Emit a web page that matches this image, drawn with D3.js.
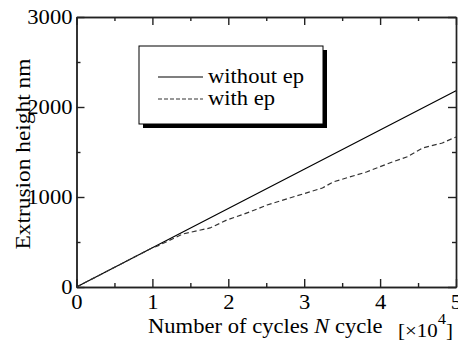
<!DOCTYPE html>
<html lang="en">
<head>
    <meta charset="UTF-8">
    <title>Extrusion height vs number of cycles</title>
    <script src="https://d3js.org/d3.v7.min.js"></script>
    <style>
        body { margin: 0; background: white; }
    </style>
</head>
<body>
    <div id="plot"></div>
    <script>
        const width = 458;
        const height = 343;
        const margin = { top: 17, right: 2, bottom: 56, left: 77 };
        const serif = '"Liberation Serif", "Times New Roman", serif';

        // data (x in units of 10^4 cycles, y in nm)
        const withoutEpX = [0, 1, 2, 3, 4, 5];
        const withoutEpY = [0, 436, 872, 1308, 1744, 2180];
        const withEpX = [0, 1.0, 1.07, 1.40, 1.76, 1.98, 2.28, 2.51, 2.81, 3.24, 3.38, 3.82, 4.16, 4.35, 4.56, 4.82, 5.0];
        const withEpY = [0, 436, 456, 589, 656, 744, 833, 911, 989, 1100, 1167, 1278, 1389, 1444, 1544, 1600, 1667];
        const xTicks = [0, 1, 2, 3, 4, 5];
        const xMinorTicks = [0.5, 1.5, 2.5, 3.5, 4.5];
        const yTicks = [0, 1000, 2000, 3000];
        const yMinorTicks = [500, 1500, 2500];
        const legendLabels = ["without ep", "with ep"];

        const sx = 1.13; // the source font is wider than Times

        const svg = d3.select("#plot")
            .append("svg")
            .attr("width", width)
            .attr("height", height);

        const x = d3.scaleLinear().domain([0, 5]).range([margin.left - 0.5, width - margin.right]);
        const y = d3.scaleLinear().domain([0, 3000]).range([height - margin.bottom, margin.top]);

        // text placed at (px, py), widened horizontally
        function label(px, py, size, k = sx) {
            return svg.append("text")
                .attr("transform", `translate(${px},${py}) scale(${k},1)`)
                .style("font-family", serif)
                .style("font-size", size + "px")
                .attr("fill", "black");
        }

        // minor ticks (inward)
        svg.append("g").attr("transform", `translate(0,${y(0)})`)
            .call(d3.axisBottom(x).tickValues(xMinorTicks).tickSizeInner(-4).tickSizeOuter(0).tickFormat(""));
        svg.append("g").attr("transform", `translate(0,${y(3000)})`)
            .call(d3.axisTop(x).tickValues(xMinorTicks).tickSizeInner(-4).tickSizeOuter(0).tickFormat(""));
        svg.append("g").attr("transform", `translate(${x(0)},0)`)
            .call(d3.axisLeft(y).tickValues(yMinorTicks).tickSizeInner(-4).tickSizeOuter(0).tickFormat(""));
        svg.append("g").attr("transform", `translate(${x(5)},0)`)
            .call(d3.axisRight(y).tickValues(yMinorTicks).tickSizeInner(-4).tickSizeOuter(0).tickFormat(""));

        // major ticks
        const xAxis = svg.append("g").attr("transform", `translate(0,${y(0)})`)
            .call(d3.axisBottom(x).tickValues(xTicks).tickSizeInner(-8).tickSizeOuter(0).tickPadding(8).tickFormat(d3.format("d")));
        svg.append("g").attr("transform", `translate(0,${y(3000)})`)
            .call(d3.axisTop(x).tickValues(xTicks).tickSizeInner(-8).tickSizeOuter(0).tickFormat(""));
        const yAxis = svg.append("g").attr("transform", `translate(${x(0)},0)`)
            .call(d3.axisLeft(y).tickValues(yTicks).tickSizeInner(-8).tickSizeOuter(0).tickPadding(4).tickFormat(d3.format("d")));
        svg.append("g").attr("transform", `translate(${x(5)},0)`)
            .call(d3.axisRight(y).tickValues(yTicks).tickSizeInner(-8).tickSizeOuter(0).tickFormat(""));

        svg.selectAll(".domain, .tick line").attr("stroke", "#222").attr("stroke-width", 1.4);
        svg.selectAll(".tick text")
            .style("font-family", serif)
            .style("font-size", "20px")
            .attr("fill", "black");
        xAxis.selectAll(".tick text").attr("dy", "0.68em").attr("transform", `scale(${sx},1)`);
        yAxis.selectAll(".tick text")
            .attr("x", null)
            .attr("transform", `translate(-4,0) scale(${sx},1)`);

        // lines
        const line = d3.line().x(d => x(d[0])).y(d => y(d[1]));
        svg.append("path")
            .datum(d3.zip(withoutEpX, withoutEpY))
            .attr("d", line)
            .attr("fill", "none")
            .attr("stroke", "black")
            .attr("stroke-width", 1.2);
        svg.append("path")
            .datum(d3.zip(withEpX, withEpY))
            .attr("d", line)
            .attr("fill", "none")
            .attr("stroke", "#333")
            .attr("stroke-width", 1.2)
            .attr("stroke-dasharray", "5,3");

        // legend
        svg.append("rect")
            .attr("x", 143).attr("y", 50).attr("width", 184).attr("height", 78)
            .attr("fill", "black");
        svg.append("rect")
            .attr("x", 139).attr("y", 46).attr("width", 184).attr("height", 78)
            .attr("fill", "white").attr("stroke", "black").attr("stroke-width", 1);
        legendLabels.forEach((lab, i) => {
            const ly = 77 + i * 22;
            svg.append("line")
                .attr("x1", 158).attr("x2", 203).attr("y1", ly).attr("y2", ly)
                .attr("stroke", i === 0 ? "black" : "#333")
                .attr("stroke-width", 1.2)
                .attr("stroke-dasharray", i === 0 ? null : "4,2");
            label(208, ly + 6, 20).text(lab);
        });

        // axis titles
        const xt = label(148, 333, 20);
        xt.append("tspan").text("Number of cycles ");
        xt.append("tspan").style("font-style", "italic").text("N");
        xt.append("tspan").text(" cycle");

        const unit = label(398, 337, 19, 1.1);
        unit.append("tspan").text("[\u00d710");
        unit.append("tspan").style("font-size", "15px").attr("dy", -13).text("4");
        unit.append("tspan").attr("dy", 13).text("]");

        svg.append("text")
            .attr("transform", "translate(30,154) rotate(-90) scale(1.17,1)")
            .attr("text-anchor", "middle")
            .style("font-family", serif)
            .style("font-size", "20px")
            .text("Extrusion height nm");
    </script>
</body>
</html>
